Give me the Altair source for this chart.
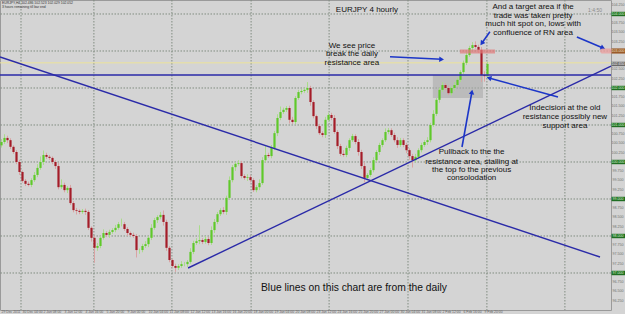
import math
import altair as alt
import pandas as pd

# ---------------- data (EURJPY 4-hour candles) ----------------
close = [
    100.54, 100.65, 100.59, 100.41, 100.27, 100.00, 99.73, 99.49, 99.41, 99.38,
    99.51, 99.65, 99.84, 100.00, 100.19, 100.14, 100.11, 100.00, 99.89, 99.32,
    99.38, 99.24, 99.30, 98.89, 98.70, 98.68, 98.65, 98.68, 98.65, 98.22,
    97.95, 97.68, 97.73, 97.95, 98.08, 98.03, 98.11, 98.16, 98.22, 98.32,
    98.32, 98.19, 98.08, 98.03, 98.00, 97.62, 97.62, 97.73, 97.78, 97.95,
    98.22, 98.43, 98.51, 98.57, 98.38, 97.68, 97.35, 97.19, 97.14, 97.19,
    97.24, 97.24, 97.30, 97.57, 97.81, 97.86, 97.89, 97.84, 97.92, 97.81,
    98.16, 98.38, 98.59, 98.70, 98.65, 99.03, 99.51, 99.86, 99.95, 99.97,
    99.62, 99.57, 99.59, 99.51, 99.24, 99.32, 99.43, 100.05, 100.19, 100.16,
    100.38, 100.78, 101.19, 101.35, 101.41, 101.46, 101.14, 101.08, 101.73, 101.89,
    101.92, 101.95, 102.00, 101.62, 101.24, 100.97, 100.78, 100.73, 101.14, 101.27,
    101.19, 100.81, 100.43, 100.22, 100.19, 100.38, 100.59, 100.70, 100.54, 100.27,
    99.89, 99.57, 99.65, 99.78, 100.05, 100.27, 100.46, 100.59, 100.81, 100.86,
    100.73, 100.59, 100.46, 100.59, 100.46, 100.32, 100.16, 100.05, 100.14, 100.32,
    100.46, 100.54, 100.59, 101.00, 101.30, 101.68, 101.95, 102.08, 102.00, 101.86,
    102.00, 102.08, 102.22, 102.43, 102.68, 102.89, 103.08, 103.16, 103.11, 103.03,
    102.35, 102.32, 102.65,
]
first_open = 100.45
upper_wick = [
    .08, .10, .06, .05, .04, .05, .06, .04, .05, .06,
    .05, .08, .10, .15, .12, .06, .05, .04, .05, .08,
    .15, .06, .05, .08, .05, .06, .04, .05, .06, .05,
    .04, .06, .08, .06, .10, .05, .06, .05, .08, .06,
    .15, .06, .05, .04, .06, .05, .04, .06, .08, .05,
    .10, .06, .05, .08, .12, .06, .05, .04, .06, .05,
    .08, .06, .05, .10, .06, .08, .40, .05, .08, .06,
    .10, .08, .06, .05, .08, .06, .10, .06, .05, .08,
    .06, .05, .08, .06, .05, .06, .10, .08, .25, .06,
    .08, .06, .10, .15, .06, .05, .06, .08, .05, .06,
    .05, .06, .16, .06, .05, .04, .06, .05, .08, .06,
    .06, .08, .05, .06, .10, .06, .05, .06, .05, .08,
    .06, .10, .05, .06, .08, .05, .06, .05, .10, .06,
    .05, .06, .08, .06, .05, .06, .05, .06, .08, .05,
    .06, .05, .08, .06, .10, .05, .06, .08, .05, .06,
    .05, .08, .06, .05, .06, .08, .06, .08, .10, .06,
    .08, .10, .06,
]
lower_wick = [
    .06, .05, .08, .06, .05, .06, .08, .05, .06, .04,
    .06, .05, .06, .05, .08, .06, .05, .06, .08, .06,
    .05, .06, .08, .05, .06, .10, .06, .05, .08, .06,
    .10, .40, .08, .06, .05, .06, .08, .05, .06, .05,
    .06, .05, .08, .06, .05, .20, .10, .06, .05, .08,
    .06, .05, .08, .06, .10, .08, .06, .05, .11, .06,
    .05, .06, .08, .05, .06, .05, .08, .06, .05, .06,
    .05, .08, .06, .05, .06, .08, .05, .06, .10, .05,
    .06, .05, .08, .06, .05, .06, .08, .05, .06, .05,
    .06, .05, .08, .06, .05, .06, .10, .05, .06, .05,
    .06, .05, .08, .10, .06, .08, .05, .06, .08, .05,
    .06, .05, .08, .06, .05, .06, .08, .05, .06, .10,
    .08, .12, .06, .05, .06, .05, .08, .06, .05, .06,
    .05, .06, .08, .05, .06, .08, .10, .20, .06, .05,
    .06, .05, .08, .06, .05, .06, .08, .05, .06, .05,
    .06, .08, .05, .06, .05, .06, .05, .06, .05, .08,
    .19, .15, .06,
]

grid_prices = [97, 98, 99, 100, 101, 102, 103, 104]
grid_index = [6.5, 30.8, 56.8, 83.2, 109.2, 135.5, 161.8, 187.8]

axis_minor = [104.25, 103.75, 103.5, 103.25, 102.5, 102.25, 101.75, 101.5, 101.25,
              100.75, 100.5, 100.25, 99.75, 99.5, 99.25, 98.75, 98.5, 98.25,
              97.75, 97.5, 97.25, 96.75, 96.5, 96.25]
axis_major = [104, 102, 101, 100, 99, 98, 97]
target_level = 103.0
current_price = 102.65

date_labels = ["29 Dec 2011", "30 Dec 04:00", "2 Jan 08:00", "3 Jan 12:00", "4 Jan 16:00",
               "5 Jan 20:00", "9 Jan 00:00", "10 Jan 04:00", "11 Jan 08:00", "12 Jan 12:00",
               "13 Jan 16:00", "16 Jan 20:00", "18 Jan 00:00", "19 Jan 04:00", "20 Jan 08:00",
               "23 Jan 12:00", "24 Jan 16:00", "25 Jan 20:00", "27 Jan 00:00", "30 Jan 04:00",
               "31 Jan 08:00", "2 Feb 12:00", "6 Feb 16:00", "9 Feb 20:00"]
date_index = [0, 7, 14, 21, 28, 35, 42, 49, 56, 63, 70, 77, 84, 91, 98, 105, 112,
              119, 126, 133, 140, 147, 154, 161]

resistance_h = 102.35       # daily horizontal resistance (blue)
yellow_level = 102.68
desc_line = [(-0.5, 102.838), (199.5, 97.432)]
asc_line = [(62.2, 97.135), (203.17, 102.594)]
gray_box = (143.8, 160.5, 101.73, 102.35)
target_box = (152.8, 164.5, 102.93, 103.04)

arrows = [
    ((129.5, 102.846), (146.7, 102.775)),
    ((162.8, 103.521), (160.1, 103.208)),
    ((191.8, 103.378), (200.5, 103.081)),
    ((185.5, 101.756), (162.5, 102.270)),
    ((153.5, 100.405), (156.8, 101.892)),
]

notes = [
    ("EURJPY 4 hourly", 121.8, 104.108, 8),
    ("We see price", 116.8, 103.143, 8),
    ("break the daily", 116.8, 102.910, 8),
    ("resistance area", 116.8, 102.667, 8),
    ("And a target area if the", 177.2, 104.197, 8),
    ("trade was taken pretty", 177.2, 103.954, 8),
    ("much hit spot on, lows with", 177.2, 103.721, 8),
    ("confluence of RN area", 177.2, 103.478, 8),
    ("Indecision at the old", 187.8, 101.459, 8),
    ("resistance possibly new", 187.8, 101.216, 8),
    ("support area", 187.8, 100.973, 8),
    ("Pullback to the the", 156.7, 100.278, 8),
    ("resistance area, stalling at", 156.7, 100.008, 8),
    ("the top fo the previous", 156.7, 99.783, 8),
    ("consolodation", 156.7, 99.559, 8),
    ("Blue lines on this chart are from the daily", 117.5, 96.594, 10.3),
]

# ---------------- build tables ----------------
W, H = 611, 310
X_DOM = [-0.5, -0.5 + W / 3.0]
Y_DOM = [96.0, 104.378]
xs = alt.Scale(domain=X_DOM, nice=False, zero=False)
ys = alt.Scale(domain=Y_DOM, nice=False, zero=False)
px_x = W / (X_DOM[1] - X_DOM[0])
px_y = H / (Y_DOM[1] - Y_DOM[0])

opens = [first_open] + close[:-1]
candles = pd.DataFrame({
    "i": list(range(len(close))),
    "open": opens,
    "close": close,
    "high": [max(o, c) + u for o, c, u in zip(opens, close, upper_wick)],
    "low": [min(o, c) - l for o, c, l in zip(opens, close, lower_wick)],
})
up = candles[candles["close"] >= candles["open"]]
down = candles[candles["close"] < candles["open"]]

X = lambda f: alt.X(f, type="quantitative", scale=xs, axis=None)
Y = lambda f: alt.Y(f, type="quantitative", scale=ys, axis=None)

FONT = "Liberation Sans"
GRID = "#808c80"
BLUE = "#2a2aa8"
ARROW = "#1c36c8"

hgrid = alt.Chart(pd.DataFrame({"p": grid_prices})).mark_rule(
    color=GRID, strokeDash=[1.5, 1.5], strokeWidth=1).encode(y=Y("p"))
vgrid = alt.Chart(pd.DataFrame({"i": grid_index})).mark_rule(
    color=GRID, strokeDash=[1.5, 1.5], strokeWidth=1).encode(x=X("i"))

gbox = alt.Chart(pd.DataFrame([dict(zip(["x", "x2", "y", "y2"], gray_box))])).mark_rect(
    color="#aaaaaa", opacity=0.6).encode(x=X("x"), x2="x2", y=Y("y"), y2="y2")

yellow = alt.Chart(pd.DataFrame({"p": [yellow_level]})).mark_rule(
    color="#ece39a", strokeWidth=1).encode(y=Y("p"))


def candle_layers(df, wick_col, body_col):
    w = alt.Chart(df).mark_rule(strokeWidth=1, color=wick_col).encode(
        x=X("i"), y=Y("low"), y2="high")
    b = alt.Chart(df).mark_rule(strokeWidth=2.2, strokeCap="butt", color=body_col).encode(
        x=X("i"), y=Y("open"), y2="close")
    return w, b


up_w, up_b = candle_layers(up, "#a9dc8a", "#5fc92a")
dn_w, dn_b = candle_layers(down, "#d9a3a3", "#a41c28")

tbox = alt.Chart(pd.DataFrame([dict(zip(["x", "x2", "y", "y2"], target_box))])).mark_rect(
    color="#e27a7a", opacity=0.7).encode(x=X("x"), x2="x2", y=Y("y"), y2="y2")

hres = alt.Chart(pd.DataFrame({"p": [resistance_h]})).mark_rule(
    color=BLUE, strokeWidth=1.6).encode(y=Y("p"))

tl = pd.DataFrame([
    {"x": desc_line[0][0], "y": desc_line[0][1], "x2": desc_line[1][0], "y2": desc_line[1][1]},
    {"x": asc_line[0][0], "y": asc_line[0][1], "x2": asc_line[1][0], "y2": asc_line[1][1]},
])
trend = alt.Chart(tl).mark_rule(color=BLUE, strokeWidth=1.4).encode(
    x=X("x"), y=Y("y"), x2="x2", y2="y2")

arr_df = pd.DataFrame([
    {"x": a[0], "y": a[1], "x2": b[0], "y2": b[1],
     "ang": math.degrees(math.atan2(-(b[1] - a[1]) * px_y, (b[0] - a[0]) * px_x)) % 360}
    for a, b in arrows
])
arr_lines = alt.Chart(arr_df).mark_rule(color=ARROW, strokeWidth=1.6).encode(
    x=X("x"), y=Y("y"), x2="x2", y2="y2")
arr_heads = alt.Chart(arr_df).mark_point(shape="triangle-right", filled=True, size=30,
                                         color=ARROW, opacity=1).encode(
    x=X("x2"), y=Y("y2"), angle=alt.Angle("ang:Q", scale=None))

note_df = pd.DataFrame(notes, columns=["t", "x", "y", "fs"])
texts = []
for fs in sorted(set(note_df["fs"])):
    texts.append(alt.Chart(note_df[note_df["fs"] == fs]).mark_text(
        font=FONT, fontSize=fs, color="#111111", align="center", baseline="middle").encode(
        x=X("x"), y=Y("y"), text="t:N"))

# right price axis
minor_df = pd.DataFrame({"p": axis_minor, "t": [f"{v:.3f}" for v in axis_minor]})
major_df = pd.DataFrame({"p": axis_major, "t": [f"{v:.3f}" for v in axis_major]})
major_df["lo"] = major_df["p"] - 0.06
major_df["hi"] = major_df["p"] + 0.06
tgt_df = pd.DataFrame({"p": [target_level], "t": [f"{target_level:.3f}"],
                       "lo": [target_level - 0.07], "hi": [target_level + 0.07]})
cur_df = pd.DataFrame({"p": [current_price], "t": [f"{current_price:.3f}"],
                       "lo": [current_price - 0.06], "hi": [current_price + 0.06]})

ax_minor = alt.Chart(minor_df).mark_text(font=FONT, fontSize=3.6, color="#707070",
                                         align="center", baseline="middle").encode(
    x=alt.value(618), y=Y("p"), text="t:N")
ax_major_box = alt.Chart(major_df).mark_rect(color="#1f6e22").encode(
    x=alt.value(611.5), x2=alt.value(625), y=Y("lo"), y2="hi")
ax_major = alt.Chart(major_df).mark_text(font=FONT, fontSize=3.6, color="#d8f5d0",
                                         align="center", baseline="middle").encode(
    x=alt.value(618), y=Y("p"), text="t:N")
tgt_glow = alt.Chart(tgt_df).mark_rect(color="#eaa0a0", opacity=0.8, cornerRadius=3).encode(
    x=alt.value(600), x2=alt.value(613), y=Y("lo"), y2="hi")
tgt_box = alt.Chart(tgt_df).mark_rect(color="#9a5a2a").encode(
    x=alt.value(611.5), x2=alt.value(625), y=Y("lo"), y2="hi")
tgt_txt = alt.Chart(tgt_df).mark_text(font=FONT, fontSize=3.6, color="#f0e0c0",
                                      align="center", baseline="middle").encode(
    x=alt.value(618), y=Y("p"), text="t:N")
cur_box = alt.Chart(cur_df).mark_rect(color="#6a6a6a").encode(
    x=alt.value(611.5), x2=alt.value(625), y=Y("lo"), y2="hi")
cur_txt = alt.Chart(cur_df).mark_text(font=FONT, fontSize=3.6, color="#f0f0f0",
                                      align="center", baseline="middle").encode(
    x=alt.value(618), y=Y("p"), text="t:N")

date_df = pd.DataFrame({"i": date_index, "t": date_labels})
dates = alt.Chart(date_df).mark_text(font=FONT, fontSize=3.4, color="#606060",
                                     align="left", baseline="middle").encode(
    x=X("i"), y=alt.value(312.3), text="t:N")

info1 = alt.Chart(pd.DataFrame({"t": ["EURJPY,H4  102.486 102.523 102.029 102.052"]})).mark_text(
    font=FONT, fontSize=3.4, color="#333333", align="left", baseline="middle").encode(
    x=alt.value(2), y=alt.value(2.5), text="t:N")
info2 = alt.Chart(pd.DataFrame({"t": ["3 hours remaining till bar end"]})).mark_text(
    font=FONT, fontSize=3.4, color="#333333", align="left", baseline="middle").encode(
    x=alt.value(2), y=alt.value(7), text="t:N")
clock = alt.Chart(pd.DataFrame({"t": ["1:4:50"]})).mark_text(
    font=FONT, fontSize=5, color="#8a8a8a", align="center", baseline="middle").encode(
    x=alt.value(595), y=alt.value(9.5), text="t:N")

chart = alt.layer(
    hgrid, vgrid, gbox, yellow, up_w, dn_w, up_b, dn_b, tbox, hres, trend,
    arr_lines, arr_heads, *texts,
    tgt_glow, ax_minor, ax_major_box, ax_major, tgt_box, tgt_txt, cur_box, cur_txt,
    dates, info1, info2, clock,
).properties(
    width=W, height=H,
    autosize=alt.AutoSizeParams(type="none"),
    padding={"left": 0, "top": 0, "right": 625 - W, "bottom": 314 - H},
    background="#d4d4d4",
).configure_view(stroke="#9a9a9a", strokeWidth=1)

chart.save("out.html", embed_options={"renderer": "svg", "actions": False})
